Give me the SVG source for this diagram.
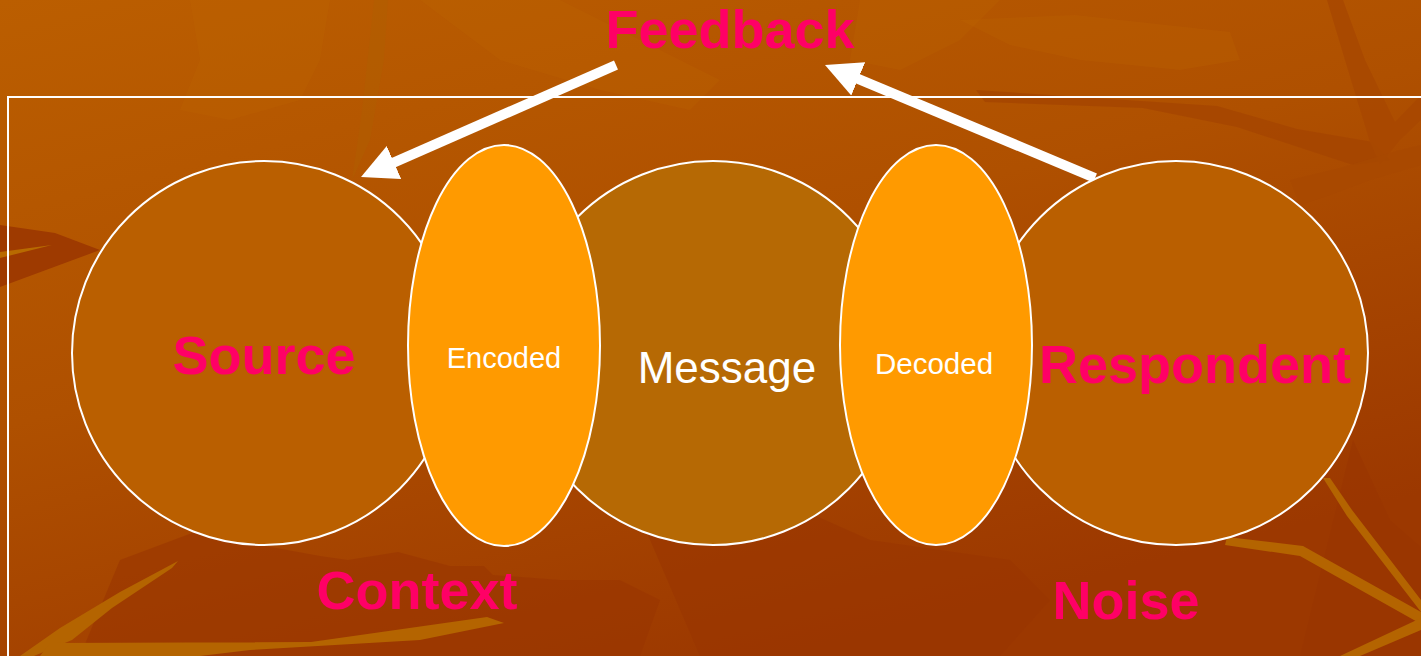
<svg xmlns="http://www.w3.org/2000/svg" width="1421" height="656" viewBox="0 0 1421 656">
  <defs>
    <linearGradient id="bg" x1="0" y1="0" x2="0.55" y2="1">
      <stop offset="0" stop-color="#BB5E00"/>
      <stop offset="0.5" stop-color="#AF5000"/>
      <stop offset="1" stop-color="#9C3800"/>
    </linearGradient>
    <marker id="head" viewBox="0 0 36 36" markerWidth="36" markerHeight="36" markerUnits="userSpaceOnUse" refX="6" refY="18" orient="auto">
      <path d="M0,0 L36,18 L0,36 Z" fill="#FFFFFF"/>
    </marker>
    <style>
      .bubble { stroke: #FFFFFF; stroke-width: 2; }
      .outer { fill: #BA5F00; }
      .middle { fill: #B66904; }
      .lens { fill: #FF9A00; }
      .key { font-family: "Liberation Sans", Arial, sans-serif; font-weight: bold; font-size: 54px; fill: #FF0066; text-anchor: middle; }
      .inner { font-family: "Liberation Sans", Arial, sans-serif; fill: #FFFFFF; text-anchor: middle; }
      .arrow { stroke: #FFFFFF; stroke-width: 10; fill: none; marker-end: url(#head); }
      .leaf-light { fill: #C06A00; opacity: 0.22; }
      .leaf-dark { fill: #9A3600; opacity: 0.6; }
      .twig { fill: #B46400; }
    </style>
  </defs>

  <!-- autumn-leaf backdrop -->
  <g id="backdrop">
    <rect x="0" y="0" width="1421" height="656" fill="url(#bg)"/>
    <!-- pale leaves along the top -->
    <polygon class="leaf-light" points="190,0 330,0 320,60 300,100 230,120 180,110 200,60"/>
    <polygon class="leaf-light" points="420,0 560,0 640,40 720,80 690,110 600,90 500,60"/>
    <polygon class="leaf-light" points="860,0 1000,0 960,40 900,70 850,60"/>
    <polygon class="leaf-light" points="960,20 1075,15 1230,32 1240,60 1180,70 1080,60 1010,45"/>
    <polygon fill="#B06000" opacity="0.45" points="374,0 388,0 384,60 370,140 352,180 362,110"/>
    <!-- dark branch, top right -->
    <polygon fill="#A44400" opacity="0.75" points="976,90 1217,106 1297,129 1373,142 1390,160 1353,165 1237,127 1143,108 985,102"/>
    <polygon fill="#A84800" opacity="0.9" points="1327,0 1343,0 1365,60 1395,122 1421,95 1421,120 1400,140 1380,165 1370,142 1348,70"/>
    <polygon fill="#A84800" opacity="0.7" points="1290,180 1340,168 1400,150 1421,145 1421,165 1370,180 1330,195 1300,205"/>
    <!-- dark leaf, left edge -->
    <polygon fill="#9E3A00" points="0,225 55,233 100,250 0,287"/>
    <polygon fill="#B86A00" points="0,252 52,245 0,258"/>
    <!-- dark ground, bottom -->
    <polygon class="leaf-dark" points="120,560 200,530 260,545 320,556 348,560 398,552 450,566 484,566 493,575 560,580 620,580 660,600 640,656 80,656"/>
    <polygon class="leaf-dark" points="620,470 780,500 870,540 1010,560 1050,600 1000,656 700,656"/>
    <polygon class="leaf-dark" points="1353,440 1390,520 1421,547 1421,656 1300,656"/>
    <!-- light twigs, bottom left -->
    <polygon class="twig" points="20,656 60,628 120,592 178,561 172,568 112,608 72,640 34,656"/>
    <polygon class="twig" points="50,643 311,642 487,617 504,623 420,640 250,650 200,656 40,656"/>
    <!-- light twigs, bottom right -->
    <polygon class="twig" points="1227,537 1303,546 1421,612 1421,624 1300,556 1225,545"/>
    <polygon class="twig" points="1323,478 1330,478 1352,510 1421,600 1421,612 1347,516"/>
    <polygon class="twig" points="1421,618 1340,656 1360,656 1421,630"/>
  </g>

  <!-- outline frame -->
  <rect id="frame" x="8" y="97" width="1440" height="600" fill="none" stroke="#FFFFFF" stroke-width="2"/>

  <!-- feedback connectors -->
  <g id="connectors">
    <line class="arrow" x1="616" y1="65" x2="388.5" y2="164.9"/>
    <line class="arrow" x1="1095" y1="178" x2="852.7" y2="76.6"/>
  </g>

  <g id="source">
    <circle class="bubble outer" cx="264" cy="353" r="192"/>
    <text class="key" x="264" y="374">Source</text>
  </g>
  <g id="message">
    <circle class="bubble middle" cx="713" cy="353" r="192"/>
    <text class="inner" x="727" y="383" font-size="44">Message</text>
  </g>
  <g id="respondent">
    <circle class="bubble outer" cx="1176" cy="353" r="192"/>
    <text class="key" x="1195" y="383">Respondent</text>
  </g>
  <g id="encoded">
    <ellipse class="bubble lens" cx="504" cy="345.5" rx="96" ry="200.5"/>
    <text class="inner" x="504" y="368" font-size="29">Encoded</text>
  </g>
  <g id="decoded">
    <ellipse class="bubble lens" cx="936" cy="345" rx="96" ry="200"/>
    <text class="inner" x="934" y="374" font-size="29.5">Decoded</text>
  </g>

  <g id="feedback">
    <text class="key" x="730" y="48">Feedback</text>
  </g>
  <g id="context">
    <text class="key" x="417" y="609">Context</text>
  </g>
  <g id="noise">
    <text class="key" x="1126" y="619">Noise</text>
  </g>
</svg>
